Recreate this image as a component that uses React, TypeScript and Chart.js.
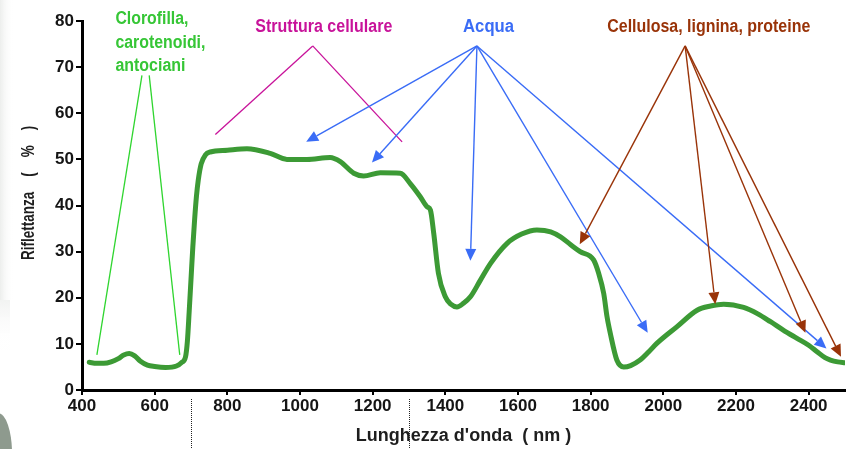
import React, { useEffect, useRef } from 'react';
import { Chart, registerables } from 'chart.js';

Chart.register(...registerables);

// Wavelength (nm) and reflectance (%)
const WAVELENGTH = [
  420, 440, 460, 480, 500, 515, 530, 545, 560, 580, 600, 630, 660, 675, 685, 690, 695, 700, 705, 710,
  715, 720, 728, 740, 753, 800, 854, 918, 964, 1019, 1083, 1111, 1148, 1175, 1221, 1276, 1304, 1331,
  1350, 1359, 1368, 1381, 1400, 1415, 1432, 1450, 1469, 1495, 1524, 1570, 1610, 1652, 1690, 1717,
  1745, 1771, 1808, 1822, 1836, 1845, 1854, 1872, 1891, 1910, 1936, 1960, 1982, 2037, 2093, 2130,
  2166, 2221, 2260, 2295, 2330, 2368, 2400, 2423, 2445, 2460, 2480, 2500,
];
const REFLECTANCE = [
  6.0, 5.8, 5.8, 6.1, 6.8, 7.6, 7.9, 7.4, 6.3, 5.4, 5.1, 4.9, 5.2, 6.0, 7.2, 10.5, 17, 24, 31, 37,
  42, 45.5, 49, 51, 51.6, 52.0, 52.3, 51.3, 50.0, 50.0, 50.4, 49.5, 47.0, 46.4, 47.1, 47.0, 44.7, 41.9,
  39.7, 39.0, 34.0, 25.3, 20.2, 18.6, 18.0, 18.8, 20.2, 23.6, 27.4, 31.8, 33.8, 34.7, 34.3, 33.2,
  31.5, 30.0, 28.2, 25.3, 20.9, 15.9, 12.3, 6.5, 5.0, 5.3, 6.5, 8.3, 10.1, 13.7, 17.3, 18.2,
  18.6, 17.9, 16.5, 14.8, 13.0, 11.2, 9.7, 8.3, 7.0, 6.5, 6.1, 5.9,
];

const X_TICKS = [400, 600, 800, 1000, 1200, 1400, 1600, 1800, 2000, 2200, 2400];
const Y_TICKS = [0, 10, 20, 30, 40, 50, 60, 70, 80];
const X_MIN = 400;
const X_MAX = 2500;
const Y_MIN = 0;
const Y_MAX = 80;

const X_TITLE = "Lunghezza d'onda  ( nm )";
const Y_TITLE = 'Riflettanza    (    %    )';

// Annotation groups: label lines, anchor (nm, %), and target points (nm, %)
const CHLORO_LINES = ['Clorofilla,', 'carotenoidi,', 'antociani'];
const CHLORO_APEX_A = [565, 68.2];
const CHLORO_APEX_B = [585, 68.2];
const CHLORO_TARGETS = [[441, 7.6], [669, 7.6]];

const STRUCT_LABEL = 'Struttura cellulare';
const STRUCT_APEX = [1035, 74.6];
const STRUCT_TARGETS = [[767, 55.4], [1281, 53.8]];

const WATER_LABEL = 'Acqua';
const WATER_APEX = [1487, 74.6];
const WATER_TARGETS = [[1017, 53.8], [1198, 49.3], [1469, 28.0], [1957, 12.4], [2449, 9.0]];

const CELL_LABEL = 'Cellulosa, lignina, proteine';
const CELL_APEX = [2060, 74.6];
const CELL_TARGETS = [[1770, 31.6], [2143, 18.6], [2391, 12.4], [2489, 7.2]];

const REGION_BOUNDS = [700, 1300];

const FONT = '"Liberation Sans", Arial, Helvetica, sans-serif';
const GREEN_TXT = '#36c636';
const GREEN_LINE = '#2fd52f';
const MAGENTA = '#c8139a';
const BLUE = '#3a6cf6';
const BROWN = '#993308';
const CURVE = '#3c9a35';

function drawArrow(ctx: CanvasRenderingContext2D, x1: number, y1: number, x2: number, y2: number, color: string) {
  const ang = Math.atan2(y2 - y1, x2 - x1);
  const len = 12;
  const hw = 5.5;
  const bx = x2 - Math.cos(ang) * len;
  const by = y2 - Math.sin(ang) * len;
  ctx.strokeStyle = color;
  ctx.fillStyle = color;
  ctx.lineWidth = 1.4;
  ctx.beginPath();
  ctx.moveTo(x1, y1);
  ctx.lineTo(bx, by);
  ctx.stroke();
  ctx.beginPath();
  ctx.moveTo(x2, y2);
  ctx.lineTo(bx + Math.sin(ang) * hw, by - Math.cos(ang) * hw);
  ctx.lineTo(bx - Math.sin(ang) * hw, by + Math.cos(ang) * hw);
  ctx.closePath();
  ctx.fill();
}

function condensedText(ctx: CanvasRenderingContext2D, text: string, x: number, y: number, width: number) {
  // draw text squeezed horizontally to the given width (like the condensed face of the original)
  const natural = ctx.measureText(text).width;
  const s = Math.min(1, width / natural);
  const align = ctx.textAlign;
  ctx.save();
  ctx.translate(x, y);
  ctx.scale(s, 1);
  ctx.textAlign = align;
  ctx.fillText(text, 0, 0);
  ctx.restore();
}

const annotationPlugin = {
  id: 'spectrumAnnotations',
  beforeDraw(chart: any) {
    const { ctx } = chart;
    ctx.save();
    // faint scan shading on the left edge and grey blob bottom-left
    const g = ctx.createLinearGradient(0, 0, 14, 0);
    g.addColorStop(0, 'rgba(232,234,232,0.8)');
    g.addColorStop(1, 'rgba(255,255,255,0)');
    ctx.fillStyle = g;
    ctx.fillRect(0, 0, 14, 300);
    const g2 = ctx.createLinearGradient(0, 300, 0, 350);
    g2.addColorStop(0, 'rgba(232,234,232,0.6)');
    g2.addColorStop(1, 'rgba(255,255,255,0)');
    ctx.fillStyle = g2;
    ctx.fillRect(0, 300, 10, 50);
    ctx.fillStyle = '#8e9a8e';
    ctx.beginPath();
    ctx.ellipse(-2, 453, 14, 40, 0, 0, Math.PI * 2);
    ctx.fill();
    ctx.restore();
  },
  afterDraw(chart: any) {
    const { ctx, scales } = chart;
    const x = scales.x;
    const y = scales.y;
    const px = (v: number) => x.getPixelForValue(v);
    const py = (v: number) => y.getPixelForValue(v);
    ctx.save();

    // dotted region separators below the axis
    ctx.strokeStyle = '#222';
    ctx.lineWidth = 1;
    ctx.setLineDash([1, 1]);
    REGION_BOUNDS.forEach((b) => {
      const xx = Math.round(px(b)) + 0.5;
      ctx.beginPath();
      ctx.moveTo(xx, chart.chartArea.bottom + 9);
      ctx.lineTo(xx, chart.height);
      ctx.stroke();
    });
    ctx.setLineDash([]);

    // axis titles
    ctx.fillStyle = '#1e1e1e';
    ctx.font = `bold 18px ${FONT}`;
    ctx.textAlign = 'center';
    ctx.textBaseline = 'alphabetic';
    ctx.fillText(X_TITLE, (x.left + x.right) / 2, 441);

    ctx.save();
    ctx.translate(34, 260);
    ctx.rotate(-Math.PI / 2);
    ctx.scale(0.75, 1);
    ctx.font = `bold 18px ${FONT}`;
    ctx.textAlign = 'left';
    ctx.fillText(Y_TITLE, 0, 0);
    ctx.restore();

    // green annotation
    ctx.font = `bold 18px ${FONT}`;
    ctx.textAlign = 'left';
    ctx.fillStyle = GREEN_TXT;
    const gWidths = [73, 90, 70];
    CHLORO_LINES.forEach((t, i) => {
      condensedText(ctx, t, px(492), py(79.3) + i * 23.3, gWidths[i]);
    });
    ctx.strokeStyle = GREEN_LINE;
    ctx.lineWidth = 1.3;
    [CHLORO_APEX_A, CHLORO_APEX_B].forEach((a, i) => {
      ctx.beginPath();
      ctx.moveTo(px(a[0]), py(a[1]));
      ctx.lineTo(px(CHLORO_TARGETS[i][0]), py(CHLORO_TARGETS[i][1]));
      ctx.stroke();
    });

    // magenta annotation
    ctx.textAlign = 'center';
    ctx.fillStyle = MAGENTA;
    condensedText(ctx, STRUCT_LABEL, px(1065.5), py(77.6), 137);
    ctx.strokeStyle = MAGENTA;
    ctx.lineWidth = 1.3;
    STRUCT_TARGETS.forEach((t) => {
      ctx.beginPath();
      ctx.moveTo(px(STRUCT_APEX[0]), py(STRUCT_APEX[1]));
      ctx.lineTo(px(t[0]), py(t[1]));
      ctx.stroke();
    });

    // blue annotation
    ctx.fillStyle = BLUE;
    condensedText(ctx, WATER_LABEL, px(1519), py(77.6), 51);
    WATER_TARGETS.forEach((t) => {
      drawArrow(ctx, px(WATER_APEX[0]), py(WATER_APEX[1]), px(t[0]), py(t[1]), BLUE);
    });

    // brown annotation
    ctx.fillStyle = BROWN;
    condensedText(ctx, CELL_LABEL, px(2125), py(77.6), 203);
    CELL_TARGETS.forEach((t) => {
      drawArrow(ctx, px(CELL_APEX[0]), py(CELL_APEX[1]), px(t[0]), py(t[1]), BROWN);
    });

    ctx.restore();
  },
};

export default function App() {
  const canvasRef = useRef<HTMLCanvasElement | null>(null);

  useEffect(() => {
    document.body.style.margin = '0';
    const canvas = canvasRef.current;
    if (!canvas) return;
    const points = WAVELENGTH.map((w, i) => ({ x: w, y: REFLECTANCE[i] }));
    const tickFont = { family: FONT, size: 17, weight: 'bold' as const };
    const chart = new Chart(canvas, {
      type: 'line',
      data: {
        datasets: [
          {
            data: points,
            borderColor: CURVE,
            borderWidth: 5,
            pointRadius: 0,
            fill: false,
            cubicInterpolationMode: 'monotone',
            borderCapStyle: 'round',
            borderJoinStyle: 'round',
          },
        ],
      },
      options: {
        responsive: false,
        animation: false,
        devicePixelRatio: 1,
        layout: { padding: { top: 21, right: 6, left: 0, bottom: 0 } },
        plugins: { legend: { display: false }, tooltip: { enabled: false }, title: { display: false } },
        scales: {
          x: {
            type: 'linear',
            min: X_MIN,
            max: X_MAX,
            afterBuildTicks: (s: any) => {
              s.ticks = X_TICKS.map((v) => ({ value: v }));
            },
            afterFit: (s: any) => {
              s.height = 59;
            },
            ticks: {
              font: tickFont,
              color: '#151515',
              padding: 1,
              maxRotation: 0,
              autoSkip: false,
              callback: (v: any) => String(v),
            },
            grid: { drawOnChartArea: false, drawTicks: true, tickLength: 5, color: '#000', lineWidth: 2 },
            border: { display: true, color: '#000', width: 3 },
          },
          y: {
            min: Y_MIN,
            max: Y_MAX,
            afterBuildTicks: (s: any) => {
              s.ticks = Y_TICKS.map((v) => ({ value: v }));
            },
            afterFit: (s: any) => {
              s.width = 82;
            },
            ticks: { font: tickFont, color: '#151515', padding: 2, callback: (v: any) => String(v) },
            grid: { drawOnChartArea: false, drawTicks: true, tickLength: 6, color: '#000', lineWidth: 2 },
            border: { display: true, color: '#000', width: 3 },
          },
        },
      },
      plugins: [annotationPlugin],
    } as any);
    return () => chart.destroy();
  }, []);

  return (
    <div style={{ position: 'absolute', left: 0, top: 0, width: 851, height: 449, background: '#fff' }}>
      <canvas ref={canvasRef} width={851} height={449} style={{ display: 'block' }} />
    </div>
  );
}
